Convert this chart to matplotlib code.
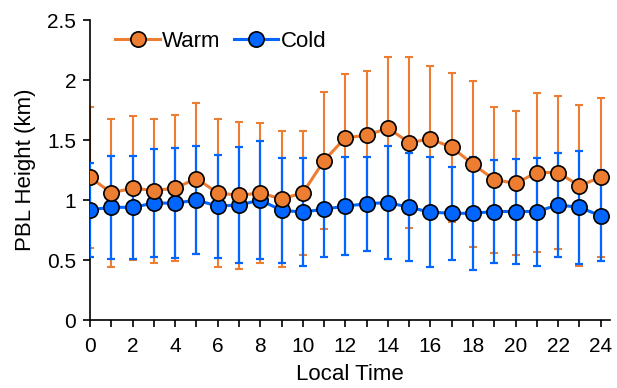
import matplotlib
matplotlib.use('Agg')
import matplotlib.pyplot as plt

hours = list(range(25))
warm = [1.19, 1.06, 1.10, 1.08, 1.10, 1.18, 1.06, 1.04, 1.06, 1.01, 1.06, 1.33, 1.52,
        1.54, 1.60, 1.48, 1.51, 1.44, 1.30, 1.17, 1.14, 1.23, 1.23, 1.12, 1.19]
warm_sd = [0.59, 0.62, 0.60, 0.60, 0.61, 0.63, 0.62, 0.61, 0.58, 0.57, 0.52, 0.57, 0.53,
           0.54, 0.59, 0.71, 0.61, 0.62, 0.69, 0.61, 0.60, 0.66, 0.64, 0.67, 0.66]
cold = [0.92, 0.94, 0.94, 0.975, 0.975, 1.00, 0.95, 0.96, 1.00, 0.915, 0.90, 0.925, 0.95,
        0.97, 0.98, 0.94, 0.90, 0.89, 0.89, 0.905, 0.905, 0.905, 0.96, 0.94, 0.87]
cold_sd = [0.39, 0.43, 0.43, 0.45, 0.46, 0.45, 0.43, 0.48, 0.49, 0.44, 0.45, 0.40, 0.41,
           0.39, 0.47, 0.45, 0.46, 0.39, 0.47, 0.43, 0.44, 0.45, 0.43, 0.47, 0.38]

orange = '#ED7D31'
blue = '#0066FF'

plt.rcParams['font.family'] = ['Liberation Sans', 'DejaVu Sans']

fig = plt.figure(figsize=(6.17, 3.88), dpi=100)
ax = fig.add_axes([0.146, 0.175, 0.843, 0.773])

ax.errorbar(hours, warm, yerr=warm_sd, fmt='none', ecolor=orange, elinewidth=1.5,
            capsize=3, capthick=1.5, zorder=2)
ax.errorbar(hours, cold, yerr=cold_sd, fmt='none', ecolor=blue, elinewidth=1.6,
            capsize=3, capthick=1.6, zorder=3)
ax.plot(hours, cold, color=blue, lw=2.2, marker='o', ms=11, mfc=blue, mec='black',
        mew=1.2, label='Cold', zorder=4)
ax.plot(hours, warm, color=orange, lw=2.2, marker='o', ms=11, mfc=orange, mec='black',
        mew=1.2, label='Warm', zorder=5)

ax.set_xlim(0, 24.45)
ax.set_ylim(0, 2.5)
ax.set_xticks(range(0, 25, 2))
ax.set_xticks(range(25), minor=True)
ax.set_yticks([0, 0.5, 1, 1.5, 2, 2.5])
ax.set_yticklabels(['0', '0.5', '1', '1.5', '2', '2.5'])
ax.tick_params(axis='both', which='both', direction='out', length=5, width=1.2, labelsize=15)
ax.tick_params(axis='x', pad=7)
ax.tick_params(axis='y', pad=5)
ax.spines['top'].set_visible(False)
ax.spines['right'].set_visible(False)
ax.spines['left'].set_linewidth(1.2)
ax.spines['bottom'].set_linewidth(1.2)
ax.set_xlabel('Local Time', fontsize=16, labelpad=6)
ax.set_ylabel('PBL Height (km)', fontsize=16, labelpad=8)

h, l = ax.get_legend_handles_labels()
ax.legend([h[1], h[0]], [l[1], l[0]], loc='upper left', ncol=2, frameon=False,
          bbox_to_anchor=(0.01, 1.03), handlelength=2.0, handletextpad=0.1,
          columnspacing=0.6, fontsize=16)

fig.savefig('out.png', dpi=100)
